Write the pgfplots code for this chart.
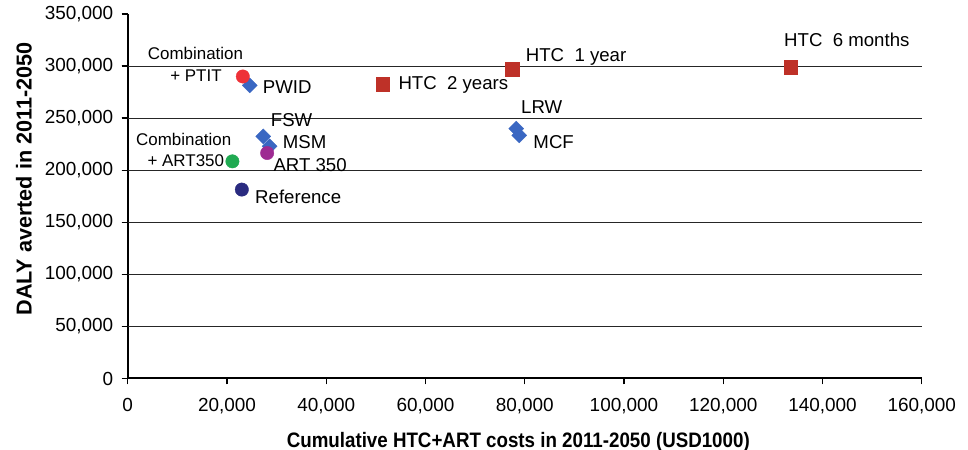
\documentclass[border=0pt]{standalone}
\usepackage{fontspec}
\setmainfont{Liberation Sans}
\usepackage{graphicx}
\usepackage{pgfplots}
\pgfplotsset{compat=1.18}
\definecolor{diam}{HTML}{3A67C2}
\definecolor{sqred}{HTML}{BE3128}
\definecolor{cred}{HTML}{EE3238}
\definecolor{cgreen}{HTML}{20AA52}
\definecolor{cnavy}{HTML}{2A2B80}
\definecolor{cpurple}{HTML}{9E2A92}
\tikzset{
  lbl/.style={font=\fontsize{18.7}{20}\selectfont, inner sep=0pt, anchor=west, text height=0.72em, text depth=0pt},
  cmb/.style={font=\fontsize{17}{19}\selectfont, inner sep=0pt, anchor=center, text height=0.72em, text depth=0pt},
}
\begin{document}
\begin{tikzpicture}[x=1bp,y=1bp]
\path[use as bounding box] (-127.7,-71.5) rectangle (840.3,378.5);
\begin{axis}[
  at={(0,0)}, anchor=south west,
  scale only axis, width=794bp, height=364.5bp,
  xmin=0, xmax=160000, ymin=0, ymax=350000,
  scaled ticks=false,
  xtick={0,20000,40000,60000,80000,100000,120000,140000,160000},
  xticklabels={0,{20,000},{40,000},{60,000},{80,000},{100,000},{120,000},{140,000},{160,000}},
  ytick={0,50000,100000,150000,200000,250000,300000,350000},
  yticklabels={0,{50,000},{100,000},{150,000},{200,000},{250,000},{300,000},{350,000}},
  axis x line*=bottom, axis y line*=left,
  axis line style={line width=2bp, -},
  tick style={black, line width=1.3bp},
  tick align=outside, major tick length=6bp,
  ticklabel style={font=\fontsize{19}{22}\selectfont},
  xticklabel style={yshift=-10bp},
  yticklabel style={xshift=-5bp},
  extra y ticks={50000,100000,150000,200000,250000,300000},
  extra y tick labels={},
  extra y tick style={ymajorgrids=true},
  grid style={black!85, line width=1.1bp},
  clip=false,
]
% diamonds: PWID, FSW, MSM, LRW, MCF
\addplot[only marks, mark=square*, mark size=5.3bp, mark options={rotate=45, draw=diam, fill=diam}]
  coordinates {(24600,281400) (27300,232500) (28600,223000) (78300,239900) (78900,233500)};
% squares: HTC 2 years, 1 year, 6 months
\addplot[only marks, mark=square*, mark size=6.8bp, mark options={draw=sqred, fill=sqred}]
  coordinates {(51400,282400) (77500,296700) (133600,299000)};
% Combination + PTIT
\addplot[only marks, mark=*, mark size=6.7bp, mark options={draw=cred, fill=cred}]
  coordinates {(23200,290000)};
% Combination + ART350
\addplot[only marks, mark=*, mark size=6.7bp, mark options={draw=cgreen, fill=cgreen}]
  coordinates {(21100,208500)};
% ART 350
\addplot[only marks, mark=*, mark size=6.7bp, mark options={draw=cpurple, fill=cpurple}]
  coordinates {(28100,216500)};
% Reference
\addplot[only marks, mark=*, mark size=6.7bp, mark options={draw=cnavy, fill=cnavy}]
  coordinates {(23000,181400)};

\node[cmb] at (axis cs:13663,309666) {Combination};
\node[cmb] at (axis cs:13763,288828) {+ PTIT};
\node[cmb] at (axis cs:11284,227087) {Combination};
\node[cmb] at (axis cs:11708,207211) {+ ART350};
\node[lbl] at (axis cs:27204,277024) {PWID};
\node[lbl] at (axis cs:28816,245620) {FSW};
\node[lbl] at (axis cs:31234,224207) {MSM};
\node[lbl] at (axis cs:29340,202602) {ART 350};
\node[lbl] at (axis cs:25652,171396) {Reference};
\node[lbl] at (axis cs:54528,281150) {HTC\ \ 2 years};
\node[lbl] at (axis cs:80201,307456) {HTC\ \ 1 year};
\node[lbl] at (axis cs:79252,257814) {LRW};
\node[lbl] at (axis cs:81731,224207) {MCF};
\node[lbl] at (axis cs:132247,321859) {HTC\ \ 6 months};
\end{axis}
\node[anchor=base, inner sep=0pt] at (390.6,-68.8) {\resizebox{463bp}{\height}{\fontsize{21}{24}\selectfont\bfseries Cumulative HTC+ART costs in 2011-2050 (USD1000)}};
\node[anchor=base, inner sep=0pt, rotate=90] at (-96,199.5) {\fontsize{21.7}{24}\selectfont\bfseries DALY averted in 2011-2050};
\end{tikzpicture}
\end{document}
